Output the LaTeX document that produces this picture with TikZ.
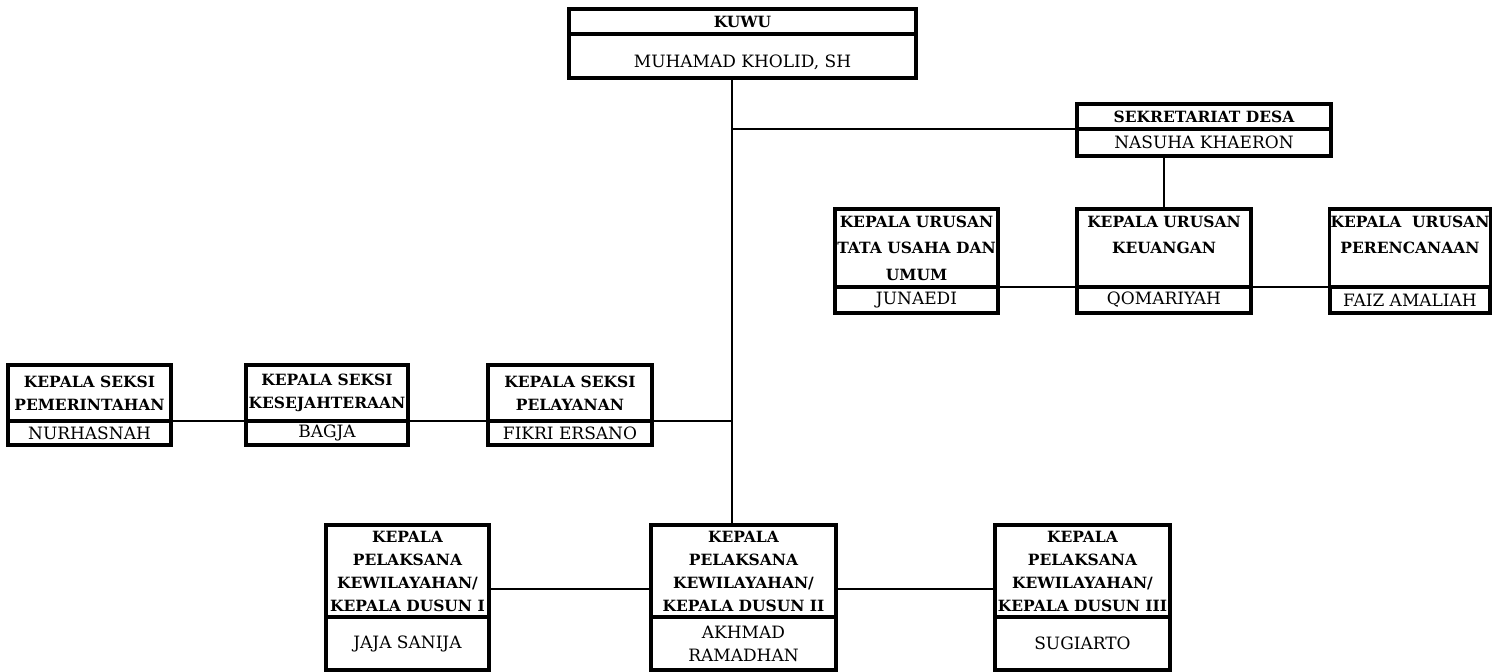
\documentclass[tikz,border=0pt]{standalone}
\usepackage{fontspec}
\setmainfont{DejaVu Serif}
\usetikzlibrary{positioning}

\begin{document}
\begin{tikzpicture}[x=1pt,y=-1pt,
      box/.style={draw,line width=3.2pt,outer sep=0pt,inner sep=1pt,align=center},
      ttl/.style={box,font=\bfseries\fontsize{15.5}{23}\selectfont},
      urs/.style={box,font=\bfseries\fontsize{15.5}{26.5}\selectfont},
      nm/.style={box,font=\fontsize{17}{23}\selectfont},
      link/.style={line width=2pt}]
    \useasboundingbox (0,0) rectangle (1492,672);
    \coordinate (spine) at (732,0);
    % pimpinan
    \node[ttl,minimum width=347pt,minimum height=25pt] (kuwu) at (742.5,21.5) {KUWU};
    \node[nm,minimum width=347pt,minimum height=44pt,text height=26pt,text depth=4pt,below=0pt of kuwu] (kuwunm) {MUHAMAD KHOLID, SH};
    \node[ttl,minimum width=254pt,minimum height=25pt] (sek) at (1204,116.5) {SEKRETARIAT DESA};
    \node[nm,minimum width=254pt,minimum height=27pt,below=0pt of sek] (seknm) {NASUHA KHAERON};
    % kepala urusan
    \node[urs,minimum width=163pt,minimum height=78pt] (tu) at (916.5,248) {KEPALA URUSAN\\TATA USAHA DAN\\UMUM};
    \node[nm,minimum width=163pt,minimum height=26pt,below=0pt of tu] (tunm) {JUNAEDI};
    \node[urs,minimum width=174pt,minimum height=78pt] (keu) at (1164,248) {KEPALA URUSAN\\KEUANGAN\\\mbox{}};
    \node[nm,minimum width=174pt,minimum height=26pt,below=0pt of keu] (keunm) {QOMARIYAH};
    \node[urs,minimum width=160pt,minimum height=78pt] (per) at (1410,248) {KEPALA\ \ URUSAN\\PERENCANAAN\\\mbox{}};
    \node[nm,minimum width=160pt,minimum height=26pt,below=0pt of per] (pernm) {FAIZ AMALIAH};
    % kepala seksi
    \node[ttl,minimum width=163pt,minimum height=56pt] (pem) at (89.5,393) {KEPALA SEKSI\\PEMERINTAHAN};
    \node[nm,minimum width=163pt,minimum height=24pt,below=0pt of pem] (pemnm) {NURHASNAH};
    \node[ttl,minimum width=162pt,minimum height=56pt] (kes) at (327,393) {KEPALA SEKSI\\KESEJAHTERAAN};
    \node[nm,minimum width=162pt,minimum height=24pt,below=0pt of kes] (kesnm) {BAGJA};
    \node[ttl,minimum width=164pt,minimum height=56pt] (pel) at (570,393) {KEPALA SEKSI\\PELAYANAN};
    \node[nm,minimum width=164pt,minimum height=24pt,below=0pt of pel] (pelnm) {FIKRI ERSANO};
    % kepala dusun
    \node[ttl,minimum width=163pt,minimum height=92pt] (dsn1) at (407.5,571) {KEPALA\\PELAKSANA\\KEWILAYAHAN/\\KEPALA DUSUN I};
    \node[nm,minimum width=163pt,minimum height=53pt,below=0pt of dsn1] (dsn1nm) {JAJA SANIJA};
    \node[ttl,minimum width=185pt,minimum height=92pt] (dsn2) at (743.5,571) {KEPALA\\PELAKSANA\\KEWILAYAHAN/\\KEPALA DUSUN II};
    \node[nm,minimum width=185pt,minimum height=53pt,below=0pt of dsn2] (dsn2nm) {AKHMAD\\RAMADHAN};
    \node[ttl,minimum width=175pt,minimum height=92pt] (dsn3) at (1082.5,571) {KEPALA\\PELAKSANA\\KEWILAYAHAN/\\KEPALA DUSUN III};
    \node[nm,minimum width=175pt,minimum height=53pt,below=0pt of dsn3] (dsn3nm) {SUGIARTO};
    % garis
    \draw[link] (kuwunm.south -| spine) -- (dsn2.north -| spine);
    \draw[link] (sek.south west) -- (sek.south west -| spine);
    \draw[link] (seknm.south -| keu.north) -- (keu.north);
    \draw[link] (tunm.north east) -- (keunm.north west);
    \draw[link] (keunm.north east) -- (pernm.north west);
    \draw[link] (pemnm.north east) -- (kesnm.north west);
    \draw[link] (kesnm.north east) -- (pelnm.north west);
    \draw[link] (pelnm.north east) -- (pelnm.north east -| spine);
    \draw[link] ([yshift=-18pt]dsn1.east) -- ([yshift=-18pt]dsn2.west);
    \draw[link] ([yshift=-18pt]dsn2.east) -- ([yshift=-18pt]dsn3.west);
  \end{tikzpicture}
\end{document}
